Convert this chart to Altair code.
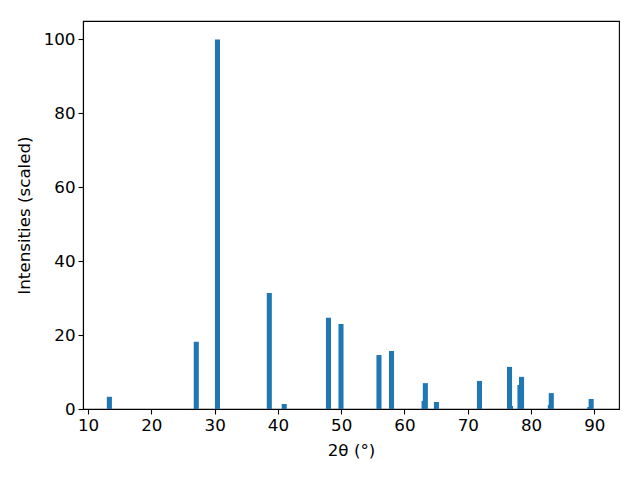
import altair as alt
import pandas as pd

# peak positions (2theta, degrees) and scaled intensities; small peaks listed first so taller ones draw on top
positions = [63.1, 76.75, 78.25, 83.05, 89.25,
             13.37, 27.1, 30.45, 38.64, 41.0, 47.99, 49.97, 55.97, 57.95,
             63.3, 65.05, 71.85, 76.6, 78.5, 83.2, 89.5]
intensities = [2.2, 0.8, 6.5, 1.1, 0.5,
               3.3, 18.2, 100.0, 31.4, 1.35, 24.7, 23.0, 14.6, 15.7,
               7.0, 1.9, 7.6, 11.4, 8.7, 4.3, 2.7]
bar_width = 0.8

df = pd.DataFrame({"pos": positions, "intensity": intensities, "order": range(len(positions))})

chart = alt.Chart(df).transform_calculate(
    x0="datum.pos - %f" % (bar_width / 2),
    x1="datum.pos + %f" % (bar_width / 2),
).mark_rect(color="#1f77b4").encode(
    x=alt.X("x0:Q", scale=alt.Scale(domain=[9.2, 93.9], nice=False, zero=False),
            axis=alt.Axis(title="2θ (°)", values=[10, 20, 30, 40, 50, 60, 70, 80, 90],
                          titlePadding=9)),
    x2="x1:Q",
    y=alt.Y("intensity:Q", scale=alt.Scale(domain=[0, 105], nice=False),
            axis=alt.Axis(title="Intensities (scaled)", values=[0, 20, 40, 60, 80, 100],
                          titlePadding=10)),
    order="order:Q",
).properties(
    width=536, height=388,
    autosize=alt.AutoSizeParams(type="none"),
    padding={"left": 75, "top": 13, "right": 13, "bottom": 63},
).configure_view(
    stroke="black", strokeWidth=1.1
).configure_axis(
    grid=False, domainColor="black", domainWidth=1.1, tickColor="black", tickWidth=1.1,
    tickSize=5, labelColor="black", titleColor="black", labelFont="DejaVu Sans",
    titleFont="DejaVu Sans", labelFontSize=16.7, titleFontSize=16.7, titleFontWeight="normal",
    labelPadding=3,
)

chart.save("out.html", embed_options={"renderer": "svg", "actions": False})
